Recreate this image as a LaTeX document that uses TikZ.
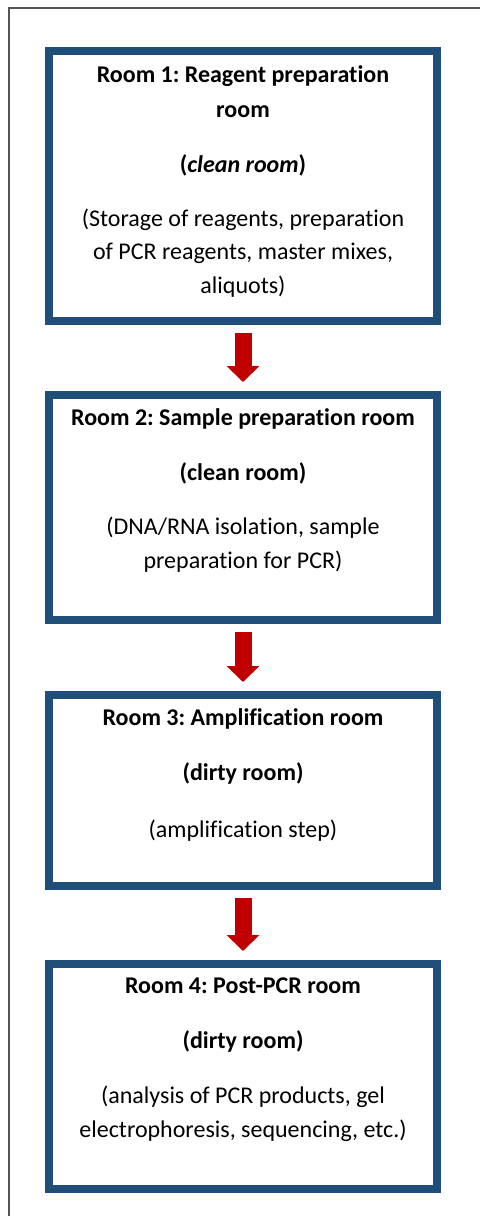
\documentclass[tikz,border=0pt]{standalone}
\usepackage{fontspec}
\setmainfont{Carlito}[Ligatures=NoCommon]
\usetikzlibrary{arrows.meta}
\definecolor{boxblue}{HTML}{1F4E79}
\definecolor{arrowred}{HTML}{C00000}
\definecolor{framegray}{HTML}{555555}
\frenchspacing
\begin{document}
\begin{tikzpicture}[x=1bp,y=-1bp,
  roombox/.style={draw=boxblue, line width=8bp, fill=white, minimum width=388bp, inner sep=0pt, anchor=north},
  txt/.style={anchor=base, inner sep=0pt, font=\fontsize{24bp}{34bp}\selectfont},
  ttl/.style={txt, font=\fontsize{24bp}{34bp}\selectfont\bfseries},
  bigarrow/.style={draw=arrowred, line width=17bp, -{Triangle[width=32bp,length=16bp]}, arrowred, shorten <=8bp, shorten >=9bp}
]
\useasboundingbox (0,0) rectangle (480,1216);
\fill[white] (0,0) rectangle (480,1216);
% outer frame (cropped)
\coordinate (fa) at (9,1216);
\coordinate (fb) at (9,8);
\coordinate (fc) at (480,8);
\draw[framegray, line width=1.2bp] (fa) -- (fb) -- (fc);

% boxes (line centre)
\node[roombox, minimum height=270bp] (r1) at (243,47) {};
\node[roombox, minimum height=225bp] (r2) at (243,391) {};
\node[roombox, minimum height=191bp] (r3) at (243,691) {};
\node[roombox, minimum height=225bp] (r4) at (243,960) {};

% arrows
\draw[bigarrow] (r1.south) -- (r2.north);
\draw[bigarrow] (r2.south) -- (r3.north);
\draw[bigarrow] (r3.south) -- (r4.north);

% room 1
\node[ttl] (t1a) at (243,82) {Room 1: Reagent preparation};
\node[ttl] (t1b) at (243,117) {room};
\node[ttl] (t1c) at (243,172) {(\textit{clean room})};
\node[txt] (t1d) at (243,226) {(Storage of reagents, preparation};
\node[txt] (t1e) at (243,259) {of PCR reagents, master mixes,};
\node[txt] (t1f) at (243,293) {aliquots)};
% room 2
\node[ttl] (t2a) at (243,425) {Room 2: Sample preparation room};
\node[ttl] (t2b) at (243,480) {(clean room)};
\node[txt] (t2c) at (243,534) {(DNA/RNA isolation, sample};
\node[txt] (t2d) at (243,568) {preparation for PCR)};
% room 3
\node[ttl] (t3a) at (243,725) {Room 3: Amplification room};
\node[ttl] (t3b) at (243,780) {(dirty room)};
\node[txt] (t3c) at (243,837) {(amplification step)};
% room 4
\node[ttl] (t4a) at (243,993) {Room 4: Post-PCR room};
\node[ttl] (t4b) at (243,1048) {(dirty room)};
\node[txt] (t4c) at (243,1103) {(analysis of PCR products, gel};
\node[txt] (t4d) at (243,1137) {electrophoresis, sequencing, etc.)};
\end{tikzpicture}
\end{document}
